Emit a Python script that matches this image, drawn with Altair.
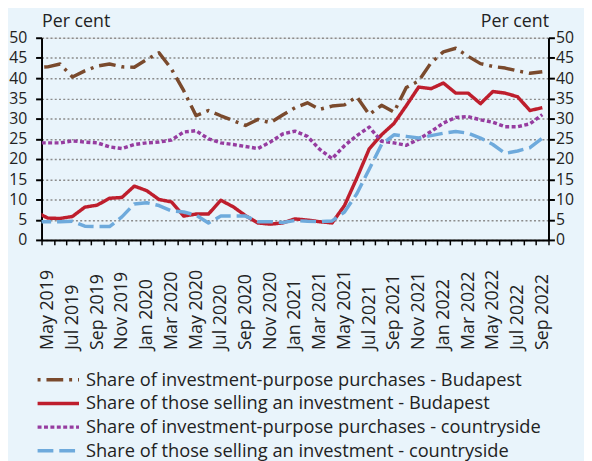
import altair as alt
import pandas as pd

months = ["Apr 2019", "May 2019", "Jun 2019", "Jul 2019", "Aug 2019", "Sep 2019", "Oct 2019",
          "Nov 2019", "Dec 2019", "Jan 2020", "Feb 2020", "Mar 2020", "Apr 2020", "May 2020",
          "Jun 2020", "Jul 2020", "Aug 2020", "Sep 2020", "Oct 2020", "Nov 2020", "Dec 2020",
          "Jan 2021", "Feb 2021", "Mar 2021", "Apr 2021", "May 2021", "Jun 2021", "Jul 2021",
          "Aug 2021", "Sep 2021", "Oct 2021", "Nov 2021", "Dec 2021", "Jan 2022", "Feb 2022",
          "Mar 2022", "Apr 2022", "May 2022", "Jun 2022", "Jul 2022", "Aug 2022", "Sep 2022"]

purchases_budapest = [42.6, 42.8, 43.5, 40.3, 41.8, 43.0, 43.5, 42.8, 42.7, 44.6, 46.3, 42.3,
                      36.9, 30.7, 32.0, 30.7, 29.5, 28.3, 29.8, 29.0, 30.9, 32.7, 33.9, 32.3,
                      33.1, 33.4, 35.4, 31.0, 33.3, 31.6, 37.7, 39.3, 43.8, 46.5, 47.4, 45.4,
                      43.6, 42.9, 42.5, 41.8, 41.2, 41.6]
selling_budapest = [7.0, 5.4, 5.3, 5.8, 8.1, 8.6, 10.3, 10.5, 13.3, 12.2, 10.0, 9.4,
                    5.9, 6.4, 6.4, 9.8, 8.2, 6.0, 4.2, 3.9, 4.2, 5.2, 4.9, 4.5,
                    4.2, 8.5, 15.3, 22.5, 26.0, 28.8, 33.2, 37.8, 37.4, 38.8, 36.3, 36.3,
                    33.7, 36.7, 36.3, 35.4, 32.0, 32.7]
purchases_countryside = [24.0, 24.0, 24.0, 24.5, 24.2, 24.0, 23.0, 22.6, 23.6, 24.0, 24.2, 24.7,
                         26.7, 27.0, 25.0, 24.0, 23.6, 23.1, 22.6, 24.2, 26.2, 26.9, 25.6, 22.4,
                         20.1, 23.3, 25.8, 27.9, 24.4, 24.0, 23.4, 24.9, 26.8, 28.9, 30.3, 30.5,
                         29.7, 29.1, 28.0, 28.0, 28.7, 31.0]
selling_countryside = [4.5, 4.5, 4.5, 4.6, 3.4, 3.3, 3.3, 5.7, 8.9, 9.2, 8.5, 7.2,
                       6.9, 6.1, 4.2, 5.9, 5.9, 5.9, 4.5, 4.5, 4.3, 4.8, 4.6, 4.5,
                       4.7, 6.9, 11.4, 17.5, 23.6, 26.0, 25.6, 25.2, 25.8, 26.4, 26.8, 26.4,
                       25.2, 23.6, 21.4, 22.0, 22.8, 25.2]

series_names = ["Share of investment-purpose purchases - Budapest",
                "Share of those selling an investment - Budapest",
                "Share of investment-purpose purchases - countryside",
                "Share of those selling an investment - countryside"]
y_ticks = [0, 5, 10, 15, 20, 25, 30, 35, 40, 45, 50]
tick_labels = months[1::2]

colors = ["#7a4a2d", "#be1e2d", "#963ca0", "#6eaadc"]
dashes = [[3, 6, 17, 6], [1, 0], [4, 2.5], [16, 6]]
widths = [3.5, 3.5, 4, 4.5]

rows = []
for name, vals in zip(series_names, [purchases_budapest, selling_budapest,
                                     purchases_countryside, selling_countryside]):
    for i, (m, v) in enumerate(zip(months, vals)):
        rows.append({"idx": i - 1, "month": m, "series": name, "value": v})
df = pd.DataFrame(rows)

n = len(months) - 1  # visible months
tick_vals = [i - 0.5 for i in range(n + 1)]
lab_arr = "[" + ",".join("'" + t + "'" for t in tick_labels) + "]"
label_expr = ("((datum.value + 0.5) % 2 == 0 && datum.value < " + str(n - 1) + ") ? "
              + lab_arr + "[(datum.value + 0.5) / 2] : ''")

W, H = 514, 205

x_enc = alt.X("idx:Q",
              scale=alt.Scale(domain=[-0.5, n - 0.5], nice=False, zero=False),
              axis=alt.Axis(values=tick_vals, labelExpr=label_expr, labelAngle=-90,
                            labelAlign="left", labelBaseline="middle",
                            labelOffset=W / n / 2, labelPadding=106, tickSize=5,
                            tickColor="black", tickWidth=1.5, domainColor="black",
                            domainWidth=2, labelOverlap=False, labelFlush=False,
                            labelBound=False, grid=False, labelFontSize=18,
                            labelColor="#222222", title=None))

common_y = dict(values=y_ticks, titleAngle=0, titleY=-11, titleX=0,
                titleBaseline="alphabetic", titleFontSize=18, titleFontWeight="normal",
                titleColor="#222222", labelFontSize=16, labelColor="#222222",
                tickSize=6, tickColor="black", tickWidth=2, domainColor="black",
                domainWidth=2)

left_axis = alt.Axis(orient="left", title="Per cent", titleAlign="left", labelPadding=9,
                     grid=True, gridColor="#8c8c8c", gridDash=[2, 2.3], gridWidth=1.5,
                     **common_y)
right_axis = alt.Axis(orient="right", title="Per cent", titleAlign="right", labelPadding=1,
                      grid=False, **common_y)

y_scale = alt.Scale(domain=[0, 50], nice=False)

leg = alt.Legend(orient="none", legendX=-6, legendY=335, title=None, symbolType="stroke",
                 symbolSize=1764, labelFontSize=18.5, labelColor="#222222", labelOffset=5,
                 labelLimit=0, padding=0, rowPadding=0, clipHeight=23.6,
                 direction="vertical")

lines = alt.Chart(df).mark_line(clip=True, strokeJoin="round").encode(
    x=x_enc,
    y=alt.Y("value:Q", scale=y_scale, axis=left_axis),
    color=alt.Color("series:N", scale=alt.Scale(domain=series_names, range=colors),
                    sort=series_names, legend=leg),
    strokeDash=alt.StrokeDash("series:N", scale=alt.Scale(domain=series_names, range=dashes),
                              sort=series_names, legend=leg),
    strokeWidth=alt.StrokeWidth("series:N", scale=alt.Scale(domain=series_names, range=widths),
                                sort=series_names, legend=leg),
)

right = alt.Chart(df).mark_line(clip=True, strokeOpacity=0).encode(
    x=x_enc,
    y=alt.Y("value:Q", scale=y_scale, axis=right_axis),
    detail="series:N",
)

chart = alt.layer(lines, right).resolve_axis(y="independent").properties(
    width=W, height=H,
    autosize=alt.AutoSizeParams(type="none"),
    padding={"left": 34, "top": 27, "right": 36, "bottom": 221},
    background="#e9f4fb",
).configure_view(stroke=None).configure(font="Open Sans")

chart.save("out.html", embed_options={"renderer": "svg", "actions": False})
